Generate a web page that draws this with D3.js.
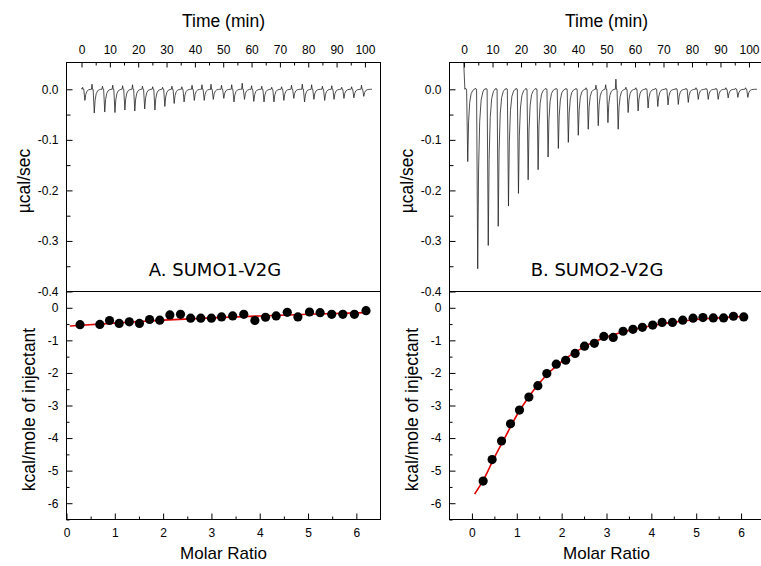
<!DOCTYPE html>
<html>
<head>
<meta charset="utf-8">
<script src="https://cdn.jsdelivr.net/npm/d3@7"></script>
<style>
  body { margin: 0; background: #fff; }
</style>
</head>
<body>
<div id="chart"></div>
<script>
// ---- raw thermogram: time of each peak (min), peak value (µcal/sec), small up spike
const injTimeA = [1.2, 4.5, 8.2, 11.8, 15.3, 18.8, 22.3, 25.9, 29.4, 32.7, 36.2, 39.8, 43.3, 46.5, 50.2,
  53.8, 57.5, 60.8, 64.4, 67.9, 71.4, 74.9, 78.7, 82.0, 85.8, 89.1, 92.6, 96.1, 99.6];
const peakA = [-0.022, -0.047, -0.045, -0.046, -0.041, -0.043, -0.039, -0.041, -0.034, -0.028, -0.025, -0.022,
  -0.022, -0.020, -0.018, -0.025, -0.020, -0.024, -0.025, -0.025, -0.022, -0.018, -0.025, -0.020, -0.022,
  -0.020, -0.018, -0.017, -0.014];
const bumpA = [0.004, 0.010, 0.006, 0.008, 0.007, 0.009, 0.006, 0.005, 0.004, 0.006, 0.005, 0.008, 0.009,
  0.010, 0.008, 0.009, 0.012, 0.007, 0.006, 0.004, 0.005, 0.008, 0.010, 0.009, 0.006, 0.007, 0.004, 0.005, 0.008];

const injTimeB = [1.3, 4.8, 8.5, 12.0, 15.6, 19.1, 22.5, 26.0, 29.5, 33.1, 36.6, 40.1, 43.6, 47.1, 50.5,
  54.1, 57.6, 61.1, 64.6, 68.0, 71.6, 75.2, 78.7, 82.2, 85.7, 89.2, 92.7, 96.1, 99.6];
const peakB = [-0.143, -0.355, -0.309, -0.271, -0.231, -0.206, -0.179, -0.159, -0.134, -0.117, -0.105, -0.091,
  -0.079, -0.072, -0.066, -0.079, -0.046, -0.043, -0.037, -0.034, -0.031, -0.030, -0.026, -0.020, -0.020,
  -0.020, -0.017, -0.016, -0.016];
const bumpB = [0.002, 0.002, 0.002, 0.002, 0.002, 0.002, 0.002, 0.002, 0.002, 0.002, 0.002, 0.002, 0.003,
  0.008, 0.009, 0.020, 0.004, 0.003, 0.002, 0.002, 0.002, 0.002, 0.002, 0.003, 0.002, 0.002, 0.003, 0.002, 0.003];

// ---- integrated heats
const ratioA = [0.28, 0.69, 0.89, 1.09, 1.30, 1.51, 1.72, 1.93, 2.14, 2.36, 2.57, 2.78, 3.00, 3.21, 3.44,
  3.67, 3.90, 4.12, 4.34, 4.57, 4.79, 5.03, 5.25, 5.49, 5.72, 5.96, 6.20];
const heatA = [-0.52, -0.51, -0.39, -0.48, -0.43, -0.48, -0.36, -0.38, -0.22, -0.20, -0.32, -0.32, -0.32,
  -0.28, -0.25, -0.20, -0.39, -0.29, -0.25, -0.14, -0.28, -0.13, -0.15, -0.20, -0.20, -0.20, -0.09];
const fitRatioA = [0.07, 1, 2, 3, 4, 5, 6.22];
const fitHeatA = [-0.56, -0.47, -0.38, -0.31, -0.25, -0.20, -0.15];

const ratioB = [0.25, 0.45, 0.66, 0.86, 1.06, 1.27, 1.47, 1.67, 1.88, 2.09, 2.30, 2.51, 2.73, 2.94, 3.15,
  3.37, 3.59, 3.80, 4.03, 4.24, 4.47, 4.70, 4.93, 5.15, 5.38, 5.61, 5.83, 6.06];
const heatB = [-5.32, -4.66, -4.09, -3.56, -3.14, -2.74, -2.39, -2.02, -1.73, -1.61, -1.40, -1.18, -1.09,
  -0.88, -0.91, -0.72, -0.66, -0.60, -0.53, -0.45, -0.45, -0.38, -0.32, -0.30, -0.31, -0.31, -0.26, -0.28];
const fitRatioB = [0.06, 0.25, 0.5, 0.75, 1.0, 1.25, 1.5, 1.75, 2.0, 2.5, 3.0, 3.5, 4.0, 4.5, 5.0, 5.5, 6.1];
const fitHeatB = [-5.72, -5.30, -4.60, -3.95, -3.30, -2.77, -2.32, -1.95, -1.65, -1.20, -0.90, -0.70, -0.55,
  -0.44, -0.36, -0.31, -0.26];

// ---- tick labels
const timeTicks = [0, 10, 20, 30, 40, 50, 60, 70, 80, 90, 100];
const powerTicks = [0.0, -0.1, -0.2, -0.3, -0.4];
const heatTicks = [0, -1, -2, -3, -4, -5, -6];
const ratioTicks = [0, 1, 2, 3, 4, 5, 6];

// shape of one injection peak: [minutes from the tip, fraction of the depth]
const peakShape = [[-0.4, 0], [0, 1], [0.3, 0.45], [0.7, 0.18], [1.2, 0.06], [1.8, 0.015], [2.3, 0]];

const W = 761, H = 566;
const topY = 62.5, midY = 291.5, botY = 519.5;
const tickFont = "Liberation Sans, Arial, sans-serif";

const svg = d3.select("#chart").append("svg")
  .attr("width", W)
  .attr("height", H)
  .style("background", "#fff");

function buildTrace(times, peaks, bumps, start, end) {
  const pts = start.slice();
  times.forEach((t, i) => {
    pts.push([t - 1.0, 0], [t - 0.8, bumps[i]], [t - 0.6, 0]);
    peakShape.forEach(s => pts.push([t + s[0], peaks[i] * s[1]]));
  });
  pts.push([end, 0]);
  return pts;
}

function styleAxis(g) {
  g.select(".domain").remove();
  g.selectAll("text")
    .attr("font-family", tickFont)
    .attr("font-size", 12)
    .attr("fill", "#000");
  g.selectAll("line").attr("stroke", "#000");
}

function drawPanel(p) {
  const g = svg.append("g");

  const xT = d3.scaleLinear().domain(p.tDomain).range([p.left, p.right]);
  const yT = d3.scaleLinear().domain([-0.4, 0.053]).range([midY, topY]);
  const xR = d3.scaleLinear().domain(p.rDomain).range([p.left, p.right]);
  const yR = d3.scaleLinear().domain([-6.5, 0.5]).range([botY, midY]);

  // clip for the raw trace
  g.append("clipPath").attr("id", "clip" + p.id)
    .append("rect")
    .attr("x", p.left).attr("y", topY)
    .attr("width", p.right - p.left).attr("height", midY - topY);

  // top: time axis (ticks point inward)
  g.append("g")
    .attr("transform", `translate(0,${topY})`)
    .call(d3.axisTop(xT).tickValues(timeTicks).tickSize(-5).tickPadding(9).tickFormat(d => d))
    .call(styleAxis);
  g.append("g")
    .attr("transform", `translate(0,${topY})`)
    .call(d3.axisTop(xT).tickValues(timeTicks.slice(0, -1).map(d => d + 5)).tickSize(-3).tickFormat(""))
    .call(styleAxis);

  g.append("g")
    .attr("transform", `translate(${p.left},0)`)
    .call(d3.axisLeft(yT).tickValues(powerTicks).tickSize(-6).tickPadding(8).tickFormat(d => d.toFixed(1)))
    .call(styleAxis);
  g.append("g")
    .attr("transform", `translate(${p.left},0)`)
    .call(d3.axisLeft(yT).tickValues(powerTicks.slice(0, -1).map(d => d - 0.05)).tickSize(-4).tickFormat(""))
    .call(styleAxis);

  // raw thermogram
  const trace = buildTrace(p.times, p.peaks, p.bumps, p.traceStart, p.traceEnd);
  g.append("path")
    .datum(trace)
    .attr("clip-path", `url(#clip${p.id})`)
    .attr("fill", "none")
    .attr("stroke", "#222")
    .attr("stroke-width", 0.8)
    .attr("d", d3.line().x(d => xT(d[0])).y(d => yT(d[1])));

  // bottom: molar ratio axis
  g.append("g")
    .attr("transform", `translate(0,${botY})`)
    .call(d3.axisBottom(xR).tickValues(ratioTicks).tickSize(-6).tickPadding(9).tickFormat(d => d))
    .call(styleAxis);
  g.append("g")
    .attr("transform", `translate(0,${botY})`)
    .call(d3.axisBottom(xR).tickValues(ratioTicks.map(d => d + 0.5).filter(d => d < p.rDomain[1]))
      .tickSize(-3).tickFormat(""))
    .call(styleAxis);

  g.append("g")
    .attr("transform", `translate(${p.left},0)`)
    .call(d3.axisLeft(yR).tickValues(heatTicks).tickSize(-6).tickPadding(8).tickFormat(d => String(d)))
    .call(styleAxis);
  g.append("g")
    .attr("transform", `translate(${p.left},0)`)
    .call(d3.axisLeft(yR).tickValues(heatTicks.map(d => d - 0.5)).tickSize(-3).tickFormat(""))
    .call(styleAxis);

  // frames
  g.append("rect")
    .attr("x", p.left).attr("y", topY)
    .attr("width", p.right - p.left).attr("height", midY - topY)
    .attr("fill", "none").attr("stroke", "#000");
  g.append("rect")
    .attr("x", p.left).attr("y", midY)
    .attr("width", p.right - p.left).attr("height", botY - midY)
    .attr("fill", "none").attr("stroke", "#000");

  // fit curve
  const fit = p.fitRatio.map((r, i) => [r, p.fitHeat[i]]);
  g.append("path")
    .datum(fit)
    .attr("fill", "none")
    .attr("stroke", "#e00000")
    .attr("stroke-width", 1.6)
    .attr("d", d3.line().curve(d3.curveMonotoneX).x(d => xR(d[0])).y(d => yR(d[1])));

  // integrated heats
  g.selectAll(".dot")
    .data(p.ratio.map((r, i) => [r, p.heat[i]]))
    .join("circle")
    .attr("cx", d => xR(d[0]))
    .attr("cy", d => yR(d[1]))
    .attr("r", 4.6)
    .attr("fill", "#000");

  // titles
  const cx = (p.left + p.right) / 2;
  g.append("text")
    .attr("x", cx).attr("y", 27)
    .attr("text-anchor", "middle")
    .attr("font-family", tickFont).attr("font-size", 17.5)
    .text("Time (min)");
  g.append("text")
    .attr("x", cx).attr("y", 559)
    .attr("text-anchor", "middle")
    .attr("font-family", tickFont).attr("font-size", 17)
    .text("Molar Ratio");
  g.append("text")
    .attr("transform", `translate(${p.left - 37},${(topY + midY) / 2 + 4}) rotate(-90)`)
    .attr("text-anchor", "middle")
    .attr("font-family", tickFont).attr("font-size", 17.5)
    .text("µcal/sec");
  g.append("text")
    .attr("transform", `translate(${p.left - 32},${(midY + botY) / 2 + 4}) rotate(-90)`)
    .attr("text-anchor", "middle")
    .attr("font-family", tickFont).attr("font-size", 17.5)
    .text("kcal/mole of injectant");
  g.append("text")
    .attr("x", p.labelX).attr("y", 276)
    .attr("text-anchor", "middle")
    .attr("font-family", "DejaVu Sans, sans-serif").attr("font-size", 18)
    .text(p.label);
}

drawPanel({
  id: "A", left: 66.5, right: 380.5, labelX: 215, label: "A. SUMO1-V2G",
  tDomain: [-5.3, 105.5], rDomain: [0, 6.5],
  times: injTimeA, peaks: peakA, bumps: bumpA,
  traceStart: [[0.0, 0.002]], traceEnd: 102.5,
  ratio: ratioA, heat: heatA, fitRatio: fitRatioA, fitHeat: fitHeatA
});

drawPanel({
  id: "B", left: 449.5, right: 763.5, labelX: 597, label: "B. SUMO2-V2G",
  tDomain: [-5.1, 105.1], rDomain: [-0.5, 6.5],
  times: injTimeB, peaks: peakB, bumps: bumpB,
  traceStart: [[-0.4, 0.09], [0.3, 0.0]], traceEnd: 102.8,
  ratio: ratioB, heat: heatB, fitRatio: fitRatioB, fitHeat: fitHeatB
});
</script>
</body>
</html>
